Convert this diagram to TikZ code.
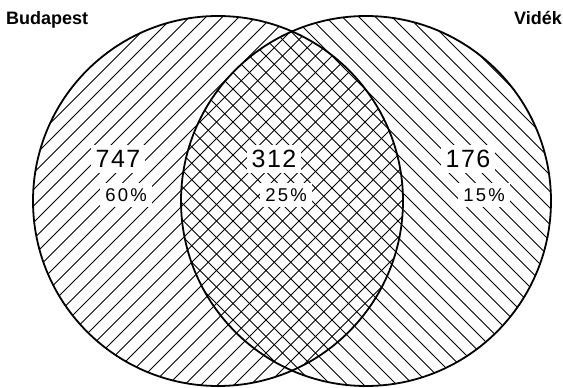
\documentclass[tikz,border=0pt]{standalone}
\usepackage{fontspec}
\setmainfont{Liberation Sans}
\newfontfamily\numfont[LetterSpace=6]{Liberation Sans}
\newfontfamily\pctfont[LetterSpace=12]{Liberation Sans}
\begin{document}
\begin{tikzpicture}[x=1pt,y=1pt,
  rim/.style={line width=1.8pt},
  hatch/.style={line width=1pt},
  lab/.style={fill=white,inner sep=5pt},
  numtxt/.style={lab,font=\numfont\fontsize{25}{25}\selectfont},
  pcttxt/.style={lab,font=\pctfont\fontsize{18.5}{18.5}\selectfont},
  head/.style={font=\bfseries\fontsize{18}{18}\selectfont,inner sep=0pt}]
\useasboundingbox (0,0) rectangle (563,388);
\coordinate (L) at (218,187);
\coordinate (R) at (366,187);
\begin{scope}
  \clip (L) circle (185);
  \foreach \i in {-25,...,30} \draw[hatch] (\i*16.5,0) -- ++(450,450);
\end{scope}
\begin{scope}
  \clip (R) circle (185);
  \foreach \i in {8,...,62} \draw[hatch] (\i*16.5+4,0) -- ++(-450,450);
\end{scope}
\node[numtxt] (n747) at (118,229) {747};
\node[pcttxt] (p60) at (126,193) {60\%};
\node[numtxt] (n312) at (274,229) {312};
\node[pcttxt] (p25) at (286,193) {25\%};
\node[numtxt] (n176) at (468,229) {176};
\node[pcttxt] (p15) at (484,193) {15\%};
\draw[rim] (L) circle (185);
\draw[rim] (R) circle (185);
\node[head,anchor=base west] (bud) at (6,363) {Budapest};
\node[head,anchor=base east] (vid) at (562,363) {Vidék};
\end{tikzpicture}
\end{document}
